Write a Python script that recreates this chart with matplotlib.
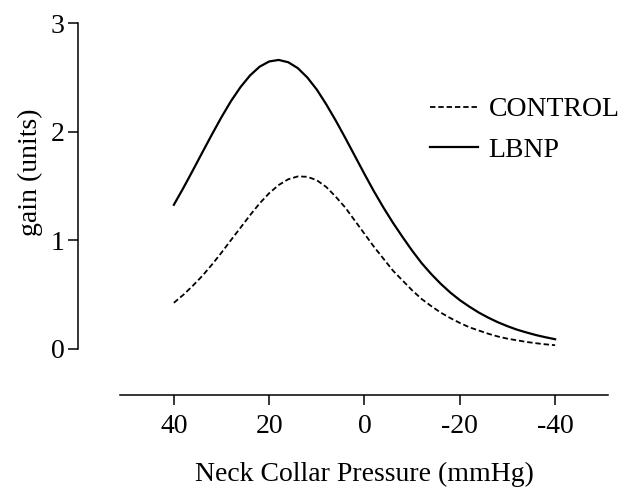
import matplotlib
matplotlib.use("Agg")
import matplotlib.pyplot as plt

plt.rcParams['font.family'] = ['Liberation Serif', 'DejaVu Serif']
plt.rcParams['font.size'] = 20

# neck collar pressure (mmHg)
pressure = [40, 38, 36, 34, 32, 30, 28, 26, 24, 22, 20, 18, 16, 14, 12, 10, 8, 6, 4, 2, 0,
            -2, -4, -6, -8, -10, -12, -14, -16, -18, -20, -22, -24, -26, -28, -30, -32,
            -34, -36, -38, -40]

control = [0.425, 0.499, 0.583, 0.674, 0.777, 0.887, 1.003, 1.117, 1.232, 1.340, 1.434,
           1.509, 1.562, 1.588, 1.585, 1.553, 1.49, 1.40, 1.30, 1.18, 1.06,
           0.94, 0.83, 0.72, 0.63, 0.54, 0.46, 0.395, 0.335, 0.285, 0.24,
           0.20, 0.17, 0.14, 0.115, 0.095, 0.08, 0.065, 0.053, 0.043, 0.035]

lbnp = [1.327, 1.482, 1.645, 1.811, 1.975, 2.134, 2.282, 2.411, 2.518, 2.598, 2.646,
        2.66, 2.639, 2.585, 2.499, 2.387, 2.25, 2.10, 1.94, 1.775, 1.61,
        1.45, 1.30, 1.16, 1.03, 0.905, 0.79, 0.69, 0.60, 0.52, 0.45,
        0.39, 0.335, 0.288, 0.246, 0.21, 0.178, 0.152, 0.128, 0.108, 0.09]

xticks = [40, 20, 0, -20, -40]
yticks = [0, 1, 2, 3]

fig = plt.figure(figsize=(6.24, 4.9), dpi=100)
ax = fig.add_axes([120/624, 1 - 349/490, 488/624, 326/490])

ax.plot(pressure, control, color='black', lw=1.3, ls=(0, (3, 1.6)), label='CONTROL')
ax.plot(pressure, lbnp, color='black', lw=1.6, label='LBNP')

ax.set_xlim(51.3, -51.1)
ax.set_ylim(0, 3)
ax.set_xticks(xticks)
ax.set_xticklabels([str(t) for t in xticks])
ax.set_yticks(yticks)

for s in ['top', 'right']:
    ax.spines[s].set_visible(False)
ax.spines['left'].set_position(('outward', 30.2))
ax.spines['bottom'].set_position(('outward', 33.1))
for s in ['left', 'bottom']:
    ax.spines[s].set_linewidth(1.1)

ax.tick_params(axis='both', direction='out', length=7.5, width=1.1)
ax.tick_params(axis='y', pad=2)
ax.tick_params(axis='x', pad=6)

ax.set_ylabel('gain (units)')
ax.yaxis.set_label_coords(-0.157, 0.543)
ax.set_xlabel('Neck Collar Pressure (mmHg)', labelpad=17)

ax.legend(loc='center left', bbox_to_anchor=(0.635, 0.672), frameon=False,
          borderpad=0, borderaxespad=0, handlelength=1.75, handletextpad=0.36,
          labelspacing=0.55)

fig.savefig('out.png', dpi=100)
